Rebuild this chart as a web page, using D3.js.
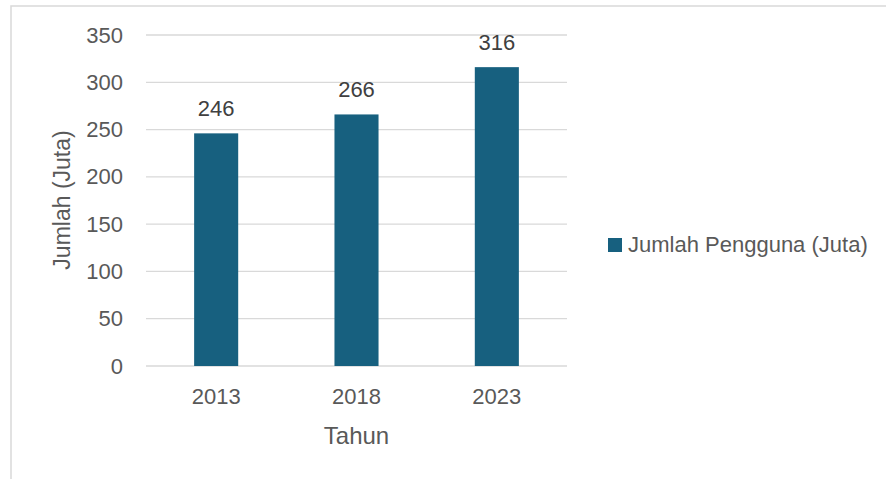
<!DOCTYPE html>
<html>
<head>
<meta charset="utf-8">
<script src="https://cdn.jsdelivr.net/npm/d3@7"></script>
<style>
  body { margin: 0; background: #fff; }
  svg { font-family: "Liberation Sans", Arial, sans-serif; }
</style>
</head>
<body>
<svg class="chart"></svg>
<script>
var years = ["2013", "2018", "2023"];
var users = [246, 266, 316];
var yTicks = [0, 50, 100, 150, 200, 250, 300, 350];
var seriesName = "Jumlah Pengguna (Juta)";

var W = 886, H = 479;
var svg = d3.select(".chart").attr("width", W).attr("height", H);

// chart frame
svg.append("rect")
  .attr("x", 11).attr("y", 6)
  .attr("width", W).attr("height", H)
  .attr("fill", "none").attr("stroke", "#d9d9d9").attr("stroke-width", 1.5);

var plotLeft = 146, plotRight = 567, plotTop = 35, plotBottom = 366;

var x = d3.scaleBand().domain(years).range([plotLeft, plotRight])
  .paddingInner(0.686).paddingOuter(0.343);
var y = d3.scaleLinear().domain([0, 350]).range([plotBottom, plotTop]);

// gridlines
svg.append("g").selectAll("line")
  .data(yTicks)
  .enter().append("line")
  .attr("x1", plotLeft).attr("x2", plotRight)
  .attr("y1", function (d) { return y(d); })
  .attr("y2", function (d) { return y(d); })
  .attr("stroke", "#d9d9d9").attr("stroke-width", 1.3);

// y tick labels
var yAxis = d3.axisLeft(y).tickValues(yTicks).tickSize(0).tickPadding(23);
var gy = svg.append("g").attr("transform", "translate(" + plotLeft + ",0)").call(yAxis);
gy.select(".domain").remove();
gy.selectAll("text").attr("font-size", 22).attr("fill", "#595959")
  .attr("font-family", "Liberation Sans, Arial, sans-serif");

// bars
svg.append("g").selectAll("rect")
  .data(users)
  .enter().append("rect")
  .attr("x", function (d, i) { return x(years[i]); })
  .attr("width", x.bandwidth())
  .attr("y", function (d) { return y(d); })
  .attr("height", function (d) { return y(0) - y(d); })
  .attr("fill", "#17607f");

// data labels
svg.append("g").selectAll("text")
  .data(users)
  .enter().append("text")
  .attr("x", function (d, i) { return x(years[i]) + x.bandwidth() / 2; })
  .attr("y", function (d) { return y(d) - 17; })
  .attr("text-anchor", "middle")
  .attr("font-size", 22).attr("fill", "#404040")
  .text(function (d) { return d; });

// x tick labels
var xAxis = d3.axisBottom(x).tickSize(0).tickPadding(22);
var gx = svg.append("g").attr("transform", "translate(0," + plotBottom + ")").call(xAxis);
gx.select(".domain").remove();
gx.selectAll("text").attr("font-size", 22).attr("fill", "#595959")
  .attr("font-family", "Liberation Sans, Arial, sans-serif");

// axis titles
svg.append("text")
  .attr("x", (plotLeft + plotRight) / 2).attr("y", 444)
  .attr("text-anchor", "middle")
  .attr("font-size", 24).attr("fill", "#595959")
  .text("Tahun");

svg.append("text")
  .attr("transform", "translate(70,200) rotate(-90)")
  .attr("text-anchor", "middle")
  .attr("font-size", 23).attr("fill", "#595959")
  .text("Jumlah (Juta)");

// legend
svg.append("rect")
  .attr("x", 608).attr("y", 238).attr("width", 14).attr("height", 14)
  .attr("fill", "#17607f");
svg.append("text")
  .attr("x", 628).attr("y", 252)
  .attr("font-size", 22).attr("fill", "#595959")
  .text(seriesName);
</script>
</body>
</html>
